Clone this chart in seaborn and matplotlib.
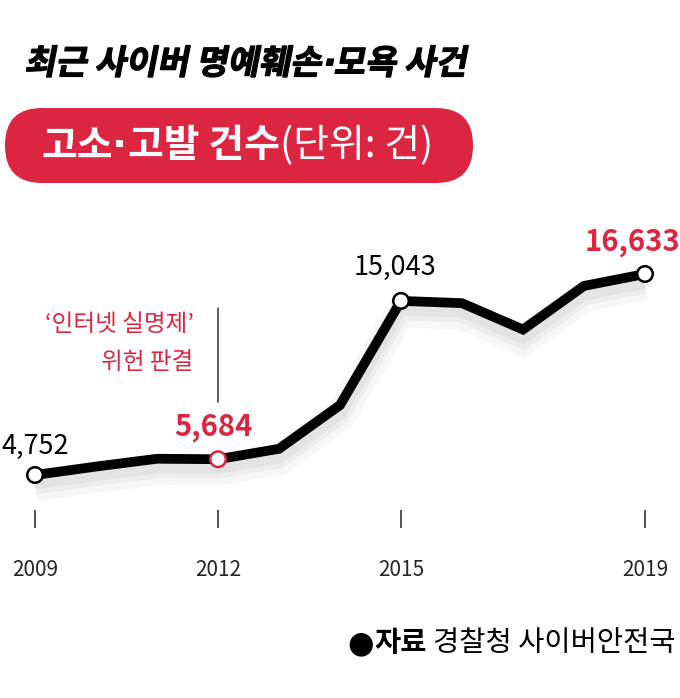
import numpy as np
import pandas as pd
import seaborn as sns
import matplotlib.pyplot as plt
import matplotlib.patheffects as pe
from matplotlib.patches import FancyBboxPatch, PathPatch
from matplotlib.textpath import TextPath
from matplotlib.font_manager import FontProperties
from matplotlib.transforms import Affine2D
from matplotlib.path import Path

years = [2009, 2010, 2011, 2012, 2013, 2014, 2015, 2016, 2017, 2018, 2019]
cases = [4752, 5250, 5712, 5684, 6300, 8880, 15043, 14908, 13348, 15926, 16633]
tick_years = [2009, 2012, 2015, 2019]
labelled = {2009: '4,752', 2012: '5,684', 2015: '15,043', 2019: '16,633'}

title_parts = ['최근 사이버 명예훼손', '·', '모욕 사건']
pill_parts = ['고소', '·', '고발 건수']
pill_unit = '(단위: 건)'
note = ['‘인터넷 실명제’', '위헌 판결']
source_bold = '자료'
source_rest = '경찰청 사이버안전국'

RED = '#dc2641'
W, H = 680, 698

sns.set_theme(style='white')
plt.rcParams['font.family'] = ['Noto Sans CJK KR', 'DejaVu Sans']

df = pd.DataFrame({'year': years, 'cases': cases})

fig = plt.figure(figsize=(W / 100, H / 100), dpi=100)
px = Affine2D().scale(1 / W, 1 / H) + fig.transFigure


def fy(py):
    # pixel from top -> figure fraction
    return 1 - py / H


# plot area: x 0..680 px, y 200..510 px
ax = fig.add_axes([0, fy(510), 1, (510 - 200) / H])
ax.set_xlim(2008.426, 2019.574)
ax.set_ylim(2683, 21005)

sns.lineplot(data=df, x='year', y='cases', ax=ax, color='black', lw=7,
             solid_joinstyle='miter', solid_capstyle='butt', zorder=3,
             path_effects=[pe.SimpleLineShadow(offset=(0, -8), shadow_color='#000000', alpha=0.03, linewidth=22),
                           pe.SimpleLineShadow(offset=(0, -7), shadow_color='#000000', alpha=0.04, linewidth=14),
                           pe.SimpleLineShadow(offset=(0, -6), shadow_color='#000000', alpha=0.04, linewidth=9),
                           pe.Normal()])

mk = df[df['year'].isin(labelled.keys())]
edge = [RED if y == 2012 else 'black' for y in mk['year']]
ax.scatter(mk['year'], mk['cases'], s=125, facecolor='white', edgecolor=edge,
           linewidth=1.8, zorder=4)

offsets = {2009: (-34, 29, 'left'), 2012: (-5, 32, 'center'),
           2015: (-6, 33, 'center'), 2019: (-13, 32, 'center')}
for yr, lab in labelled.items():
    dx, dy, ha = offsets[yr]
    bold = yr in (2012, 2019)
    ax.annotate(lab, (yr, cases[years.index(yr)]), xytext=(dx, dy),
                textcoords='offset pixels', ha=ha, va='center',
                fontsize=21 if bold else 19.5,
                fontweight='bold' if bold else 'light',
                color=RED if bold else 'black', zorder=5)

# annotation for 2012
ax.plot([2012, 2012], [9066, 14622], color='#333333', lw=1.1, zorder=2)
ax.text(2011.6, 13650, note[0], ha='right', va='center', fontsize=17,
        color=RED, fontweight='light')
ax.text(2011.6, 11400, note[1], ha='right', va='center', fontsize=17,
        color=RED, fontweight='light')

ax.set_xticks(tick_years)
ax.set_xticklabels([str(t) for t in tick_years], fontsize=15)
ax.set_yticks([])
ax.tick_params(axis='x', direction='out', length=13, width=1.1, color='#222222',
               pad=22, bottom=True)
for s in ax.spines.values():
    s.set_visible(False)
ax.set_xlabel('')
ax.set_ylabel('')
ax.patch.set_alpha(0)

# title with a slight forward slant, built from text paths
fp_b = FontProperties(family='Noto Sans CJK KR', weight='bold', size=24.5)
fp_dot = FontProperties(family='DejaVu Sans', weight='bold', size=24.5)
verts, codes = [], []
xpos = 0
for part in title_parts:
    tp = TextPath((xpos, 0), part, prop=fp_dot if part == '·' else fp_b)
    verts.append(tp.vertices)
    codes.append(tp.codes)
    xpos = tp.get_extents().x1 + (2 if part == '·' else 1)
tpath = Path(np.vstack(verts), np.concatenate(codes))
tr = Affine2D().skew_deg(11, 0).scale(100 / 72, 100 / 72).translate(24, H - 74)
fig.add_artist(PathPatch(tr.transform_path(tpath), facecolor='black',
                         edgecolor='black', lw=0.9, transform=px))

# red pill
pill = FancyBboxPatch((5, H - 183), 468, 75, boxstyle='round,pad=0,rounding_size=37',
                      facecolor=RED, edgecolor='none', transform=px)
fig.add_artist(pill)
fig.canvas.draw()
xcur = 41
for part in pill_parts:
    t = fig.text(xcur / W, fy(146), part, fontsize=28, fontweight='bold',
                 color='white', va='center', ha='left',
                 family='DejaVu Sans' if part == '·' else 'Noto Sans CJK KR')
    fig.canvas.draw()
    xcur = t.get_window_extent().x1 + (1 if part == '·' else 0)
fig.text(xcur / W, fy(146), pill_unit, fontsize=28, color='white',
         va='center', ha='left', fontweight='light')

# source
s2 = fig.text(676 / W, fy(643), source_rest, fontsize=20.5, color='black',
              va='center', ha='right')
fig.canvas.draw()
bb2 = s2.get_window_extent()
s1 = fig.text((bb2.x0 - 6) / W, fy(643), source_bold, fontsize=20.5,
              fontweight='bold', color='black', va='center', ha='right')
fig.canvas.draw()
bb1 = s1.get_window_extent()
fig.text((bb1.x0 - 1) / W, fy(644), '●', fontsize=22, color='black',
         va='center', ha='right', family='DejaVu Sans')

fig.savefig('out.png', dpi=100)
